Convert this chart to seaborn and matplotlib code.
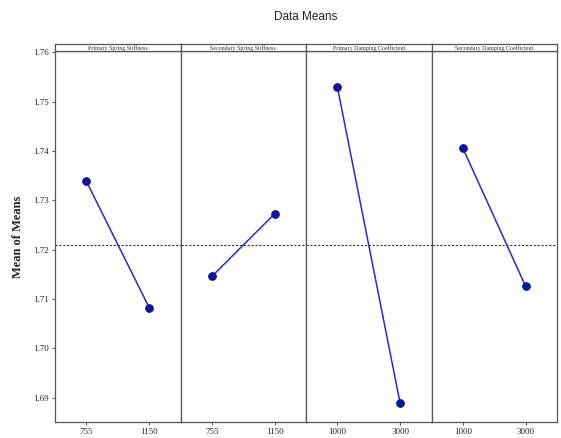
import matplotlib
matplotlib.use("Agg")
import matplotlib.pyplot as plt
import seaborn as sns
import pandas as pd

sns.set_theme(style="white")
plt.rcParams["font.family"] = ["Liberation Serif", "DejaVu Serif"]

# Main-effects means for each factor (two levels each)
factors = ["Primary Spring Stiffness", "Secondary Spring Stiffness",
           "Primary Damping Coefficient", "Secondary Damping Coefficient"]
levels = [["755", "1150"], ["755", "1150"], ["1000", "3000"], ["1000", "3000"]]
means = [[1.7339, 1.7083], [1.7146, 1.7273], [1.7530, 1.6889], [1.7406, 1.7126]]
grand_mean = 1.7210
y_ticks = [1.69, 1.70, 1.71, 1.72, 1.73, 1.74, 1.75, 1.76]

W, H = 561, 438
fig, axes = plt.subplots(1, 4, sharey=True, figsize=(W / 100, H / 100), dpi=100)
left, right, bottom, top = 55 / W, 557 / W, 1 - 422 / H, 1 - 51 / H
fig.subplots_adjust(left=left, right=right, bottom=bottom, top=top, wspace=0)

line_color = "#2a2acc"
marker_color = "#12129a"
spine_color = "#555555"

for ax, name, lv, vals in zip(axes, factors, levels, means):
    df = pd.DataFrame({"pos": [0, 1], "mean": vals})
    sns.lineplot(data=df, x="pos", y="mean", ax=ax, color=line_color, lw=1.1,
                 marker="o", markersize=5.5, markerfacecolor=marker_color,
                 markeredgecolor=marker_color)
    ax.axhline(grand_mean, color="#333333", lw=0.8, ls=(0, (2, 1.5)))
    ax.set_xlim(-0.5, 1.5)
    ax.set_xticks([0, 1])
    ax.set_xticklabels(lv)
    ax.set_xlabel("")
    ax.set_ylabel("")
    ax.tick_params(axis="both", which="both", direction="out", length=2.5,
                   width=0.7, color=spine_color, labelsize=6.5, pad=2,
                   bottom=True, left=(ax is axes[0]))
    for sp in ax.spines.values():
        sp.set_color(spine_color)
        sp.set_linewidth(0.9)
    # strip with the factor name above each panel
    pos = ax.get_position()
    strip = fig.add_axes([pos.x0, pos.y1, pos.width, 7 / H])
    strip.set_xticks([])
    strip.set_yticks([])
    for sp in strip.spines.values():
        sp.set_color(spine_color)
        sp.set_linewidth(0.9)
    strip.text(0.5, 0.45, name, ha="center", va="center", fontsize=4.3,
               color="#333333", transform=strip.transAxes)

axes[0].set_ylim(1.6851, 1.7603)
axes[0].set_yticks(y_ticks)
axes[0].set_yticklabels([f"{t:.2f}" for t in y_ticks])

fig.text(306 / W, 1 - 17 / H, "Data Means", ha="center", va="center",
         fontsize=8.5, family=["Liberation Sans", "DejaVu Sans"], color="#222222")
fig.text(18 / W, 1 - 237 / H, "Mean of Means", ha="center", va="center",
         rotation=90, fontsize=9, fontweight="bold", color="#222222")

fig.savefig("out.png", dpi=100)
